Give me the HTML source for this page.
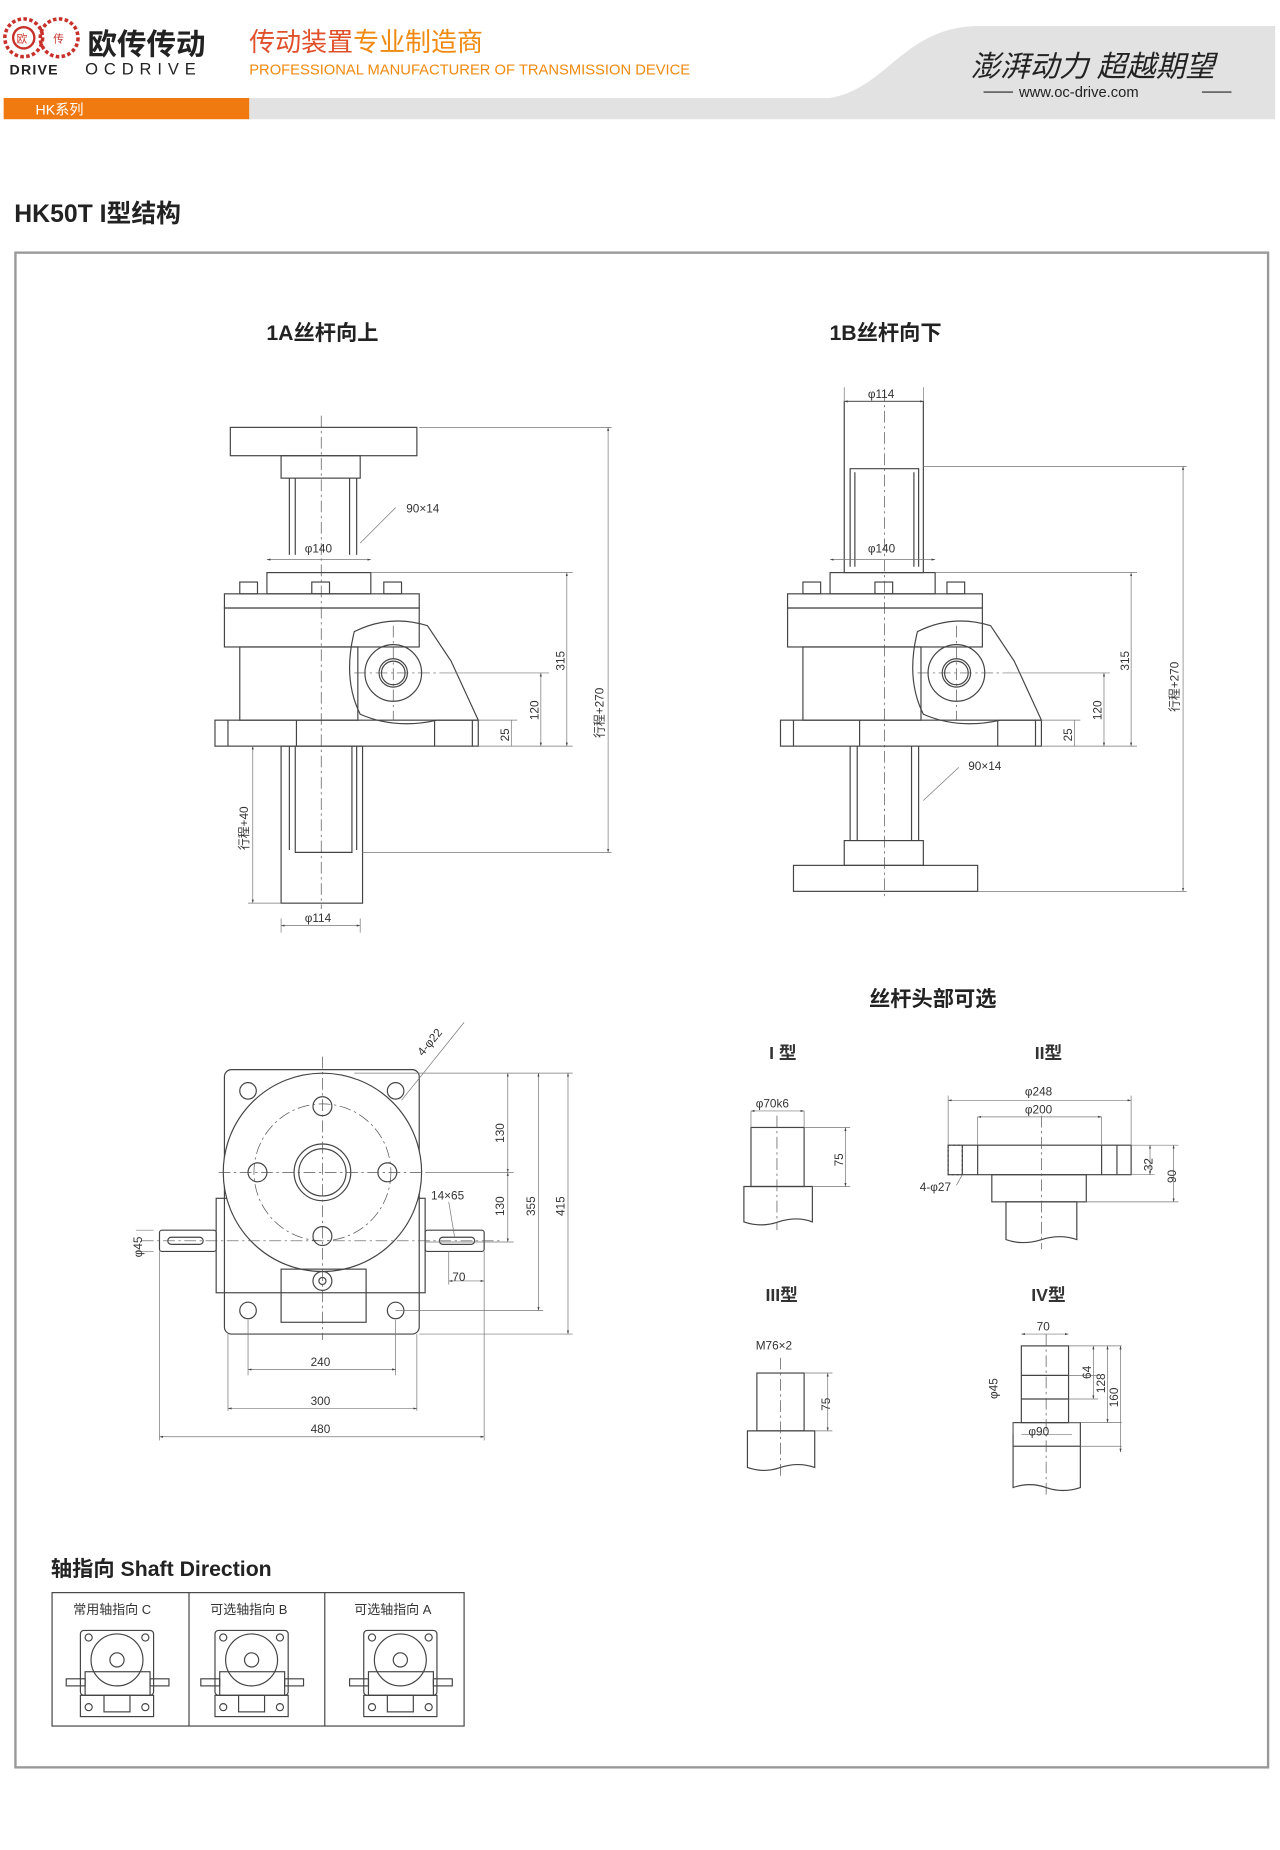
<!DOCTYPE html>
<html><head><meta charset="utf-8"><style>
html,body{margin:0;padding:0;background:#fff}
svg{display:block}
text{font-family:"Liberation Sans","Noto Sans CJK SC",sans-serif;fill:#333}
.l{fill:none;stroke:#444;stroke-width:1}
.t{fill:none;stroke:#777;stroke-width:.6}
.c{fill:none;stroke:#555;stroke-width:.6;stroke-dasharray:10 3 2 3}
.d{font-size:10px}
.h{font-size:18px;font-weight:bold;fill:#222}
</style></head><body>
<svg width="1280" height="1850" viewBox="0 0 1084 1567" xmlns="http://www.w3.org/2000/svg">
<defs>
<marker id="a" markerWidth="6" markerHeight="6" refX="5" refY="3" orient="auto-start-reverse"><path d="M0,1.5L5,3L0,4.5" fill="#444"/></marker>
</defs>
<!-- header -->
<path d="M690,84 C750,84 760,22 830,22 L1080,22 L1080,84 Z" fill="#e2e2e2"/>
<rect x="211" y="83" width="869" height="18" fill="#e2e2e2"/>
<rect x="3" y="83" width="208" height="18" fill="#f07a10"/>
<text x="30" y="97" font-size="12" style="fill:#fff">HK系列</text>
<circle cx="20" cy="32" r="16" fill="none" stroke="#c8302a" stroke-width="3" stroke-dasharray="3 2"/>
<circle cx="20" cy="32" r="9" fill="none" stroke="#c8302a" stroke-width="2"/>
<circle cx="50" cy="32" r="16" fill="none" stroke="#c8302a" stroke-width="3" stroke-dasharray="3 2"/>
<text x="14" y="36" font-size="9" style="fill:#c8302a">欧</text>
<text x="45" y="36" font-size="9" style="fill:#c8302a">传</text>
<text x="74" y="46" font-size="25" font-weight="bold" style="fill:#222">欧传传动</text>
<text x="8" y="63" font-size="12" font-weight="bold" style="fill:#222" letter-spacing="1">DRIVE</text>
<text x="72" y="63" font-size="14" style="fill:#222" letter-spacing="5">OCDRIVE</text>
<text x="211" y="43" font-size="22" style="fill:#e0502a">传动装置<tspan style="fill:#f08a10">专业制造商</tspan></text>
<text x="211" y="63" font-size="12.5" style="fill:#f08a10">PROFESSIONAL MANUFACTURER OF TRANSMISSION DEVICE</text>
<text x="822" y="65" font-size="25" font-family="Noto Serif CJK SC,serif" style="fill:#222;font-style:italic">澎湃动力 超越期望</text>
<text x="863" y="82" font-size="12.5" style="fill:#222">www.oc-drive.com</text>
<line x1="833" y1="78" x2="858" y2="78" stroke="#222"/><line x1="1018" y1="78" x2="1043" y2="78" stroke="#222"/>
<text x="12" y="188" font-size="21" font-weight="bold" style="fill:#222">HK50T I型结构</text>
<rect x="13" y="214" width="1061" height="1283" fill="none" stroke="#999" stroke-width="2"/>
<text x="273" y="288" text-anchor="middle" class="h">1A丝杆向上</text>
<text x="750" y="288" text-anchor="middle" class="h">1B丝杆向下</text>

<!-- 1A -->
<g>
<line class="c" x1="272" y1="352" x2="272" y2="770"/>
<rect class="l" x="195" y="362" width="158" height="24"/>
<rect class="l" x="238" y="386" width="67" height="19"/>
<path class="l" d="M245,405V470M250,405V470M296,405V470M302,405V470"/>
<rect class="l" x="226" y="485" width="88" height="18"/>
<rect class="l" x="203" y="493" width="15" height="10"/><rect class="l" x="264" y="493" width="15" height="10"/><rect class="l" x="325" y="493" width="15" height="10"/>
<rect class="l" x="190" y="503" width="165" height="12"/>
<rect class="l" x="190" y="515" width="165" height="33"/>
<rect class="l" x="203" y="548" width="100" height="62"/>
<path class="l" d="M300,535 Q330,520 362,530 L382,560 L405,610 L370,610 Q335,618 305,605 Q290,575 300,535Z"/>
<circle class="l" cx="333" cy="570" r="24"/><circle class="l" cx="333" cy="570" r="12"/><circle class="l" cx="333" cy="570" r="10"/>
<line class="c" x1="300" y1="570" x2="370" y2="570"/><line class="c" x1="333" y1="530" x2="333" y2="610"/>
<rect class="l" x="182" y="610" width="223" height="22"/>
<path class="l" d="M193,610V632M251,610V632M368,610V632M400,610V632"/>
<rect class="l" x="238" y="632" width="69" height="133"/>
<path class="l" d="M245,632V720M250,632V722H298V632M302,632V720"/>
<path class="t" d="M305,460L335,430"/><text class="d" x="344" y="434">90×14</text>
<line class="t" x1="226" y1="474" x2="314" y2="474" marker-start="url(#a)" marker-end="url(#a)"/><text class="d" x="258" y="468">φ140</text>
<path class="t" d="M314,485H485M372,570H465M405,632H485M355,362H518M307,722H518M405,610H438M238,765H210M238,778V790M305,778V790"/>
<line class="t" x1="480" y1="485" x2="480" y2="632" marker-start="url(#a)" marker-end="url(#a)"/>
<line class="t" x1="458" y1="570" x2="458" y2="632" marker-start="url(#a)" marker-end="url(#a)"/>
<line class="t" x1="433" y1="610" x2="433" y2="632"/>
<line class="t" x1="515" y1="362" x2="515" y2="722" marker-start="url(#a)" marker-end="url(#a)"/>
<line class="t" x1="214" y1="632" x2="214" y2="765" marker-start="url(#a)" marker-end="url(#a)"/>
<line class="t" x1="238" y1="784" x2="305" y2="784" marker-start="url(#a)" marker-end="url(#a)"/><text class="d" x="258" y="781">φ114</text>
<text class="d" transform="translate(478,568) rotate(-90)">315</text>
<text class="d" transform="translate(456,610) rotate(-90)">120</text>
<text class="d" transform="translate(431,628) rotate(-90)">25</text>
<text class="d" transform="translate(511,625) rotate(-90)">行程+270</text>
<text class="d" transform="translate(210,720) rotate(-90)">行程+40</text>
</g>

<!-- 1B -->
<g>
<line class="c" x1="749" y1="330" x2="749" y2="760"/>
<rect class="l" x="715" y="340" width="67" height="145"/>
<path class="l" d="M720,480V397H778V480M724,480V400M774,480V400"/>
<line class="t" x1="715" y1="340" x2="715" y2="328"/><line class="t" x1="782" y1="340" x2="782" y2="328"/>
<line class="t" x1="715" y1="340" x2="782" y2="340" marker-start="url(#a)" marker-end="url(#a)"/><text class="d" x="735" y="337">φ114</text>
<line class="t" x1="703" y1="474" x2="792" y2="474" marker-start="url(#a)" marker-end="url(#a)"/><text class="d" x="735" y="468">φ140</text>
<rect class="l" x="703" y="485" width="89" height="18"/>
<rect class="l" x="680" y="493" width="15" height="10"/><rect class="l" x="741" y="493" width="15" height="10"/><rect class="l" x="802" y="493" width="15" height="10"/>
<rect class="l" x="667" y="503" width="165" height="12"/>
<rect class="l" x="667" y="515" width="165" height="33"/>
<rect class="l" x="680" y="548" width="100" height="62"/>
<path class="l" d="M777,535 Q807,520 839,530 L859,560 L882,610 L847,610 Q812,618 782,605 Q767,575 777,535Z"/>
<circle class="l" cx="810" cy="570" r="24"/><circle class="l" cx="810" cy="570" r="12"/><circle class="l" cx="810" cy="570" r="10"/>
<line class="c" x1="777" y1="570" x2="847" y2="570"/><line class="c" x1="810" y1="530" x2="810" y2="610"/>
<rect class="l" x="661" y="610" width="221" height="22"/>
<path class="l" d="M672,610V632M728,610V632M845,610V632M877,610V632"/>
<path class="l" d="M720,632V712M726,632V712M772,632V712M778,632V712"/>
<rect class="l" x="715" y="712" width="67" height="21"/>
<rect class="l" x="672" y="733" width="156" height="22"/>
<path class="t" d="M782,678L812,650"/><text class="d" x="820" y="652">90×14</text>
<path class="t" d="M792,485H963M849,570H940M882,632H963M782,395H1005M828,755H1005M882,610H915"/>
<line class="t" x1="958" y1="485" x2="958" y2="632" marker-start="url(#a)" marker-end="url(#a)"/>
<line class="t" x1="935" y1="570" x2="935" y2="632" marker-start="url(#a)" marker-end="url(#a)"/>
<line class="t" x1="910" y1="610" x2="910" y2="632"/>
<line class="t" x1="1002" y1="395" x2="1002" y2="755" marker-start="url(#a)" marker-end="url(#a)"/>
<text class="d" transform="translate(956,568) rotate(-90)">315</text>
<text class="d" transform="translate(933,610) rotate(-90)">120</text>
<text class="d" transform="translate(908,628) rotate(-90)">25</text>
<text class="d" transform="translate(998,603) rotate(-90)">行程+270</text>
</g>

<!-- top view -->
<g>
<rect class="l" x="190" y="906" width="165" height="224" rx="6"/>
<rect class="l" x="183" y="1015" width="177" height="80"/>
<circle class="l" cx="273" cy="993" r="84" style="fill:#fff"/>
<circle class="c" cx="273" cy="993" r="58"/>
<circle class="l" cx="273" cy="993" r="24"/><circle class="l" cx="273" cy="993" r="20"/>
<circle class="l" cx="273" cy="937" r="8"/><circle class="l" cx="218" cy="993" r="8"/><circle class="l" cx="328" cy="993" r="8"/><circle class="l" cx="273" cy="1047" r="8"/>
<circle class="l" cx="210" cy="924" r="7"/><circle class="l" cx="335" cy="924" r="7"/><circle class="l" cx="210" cy="1110" r="7"/><circle class="l" cx="335" cy="1110" r="7"/>
<rect class="l" x="238" y="1075" width="72" height="45"/>
<circle class="l" cx="273" cy="1085" r="8"/><circle class="l" cx="273" cy="1085" r="3"/>
<rect class="l" x="135" y="1042" width="48" height="18" rx="2"/><rect class="l" x="360" y="1042" width="50" height="18" rx="2"/>
<rect class="l" x="142" y="1048" width="30" height="6" rx="3"/><rect class="l" x="372" y="1048" width="30" height="6" rx="3"/>
<line class="c" x1="120" y1="1051" x2="425" y2="1051"/><line class="c" x1="273" y1="895" x2="273" y2="1135"/><line class="c" x1="185" y1="993" x2="360" y2="993"/>
<path class="t" d="M340,932L393,866"/><text class="d" transform="translate(358,895) rotate(-50)">4-φ22</text>
<path class="t" d="M300,909H485M360,993H435M360,1052H435M335,1110H460M355,1130H485M210,1118V1165M335,1118V1165M193,1130V1195M353,1130V1195M135,1060V1220M410,1060V1220M380,1060V1088M410,1060V1088M130,1042H115M130,1060H115"/>
<line class="t" x1="430" y1="909" x2="430" y2="993" marker-start="url(#a)" marker-end="url(#a)"/>
<line class="t" x1="430" y1="993" x2="430" y2="1052" marker-start="url(#a)" marker-end="url(#a)"/>
<line class="t" x1="456" y1="909" x2="456" y2="1110" marker-start="url(#a)" marker-end="url(#a)"/>
<line class="t" x1="481" y1="909" x2="481" y2="1130" marker-start="url(#a)" marker-end="url(#a)"/>
<line class="t" x1="210" y1="1160" x2="335" y2="1160" marker-start="url(#a)" marker-end="url(#a)"/>
<line class="t" x1="193" y1="1193" x2="353" y2="1193" marker-start="url(#a)" marker-end="url(#a)"/>
<line class="t" x1="135" y1="1217" x2="410" y2="1217" marker-start="url(#a)" marker-end="url(#a)"/>
<line class="t" x1="380" y1="1085" x2="410" y2="1085" marker-start="url(#a)" marker-end="url(#a)"/>
<path class="t" d="M385,1048L380,1018"/><text class="d" x="365" y="1016">14×65</text>
<text class="d" x="383" y="1085">70</text>
<text class="d" x="263" y="1157">240</text><text class="d" x="263" y="1190">300</text><text class="d" x="263" y="1214">480</text>
<text class="d" transform="translate(427,968) rotate(-90)">130</text>
<text class="d" transform="translate(427,1030) rotate(-90)">130</text>
<text class="d" transform="translate(453,1030) rotate(-90)">355</text>
<text class="d" transform="translate(478,1030) rotate(-90)">415</text>
<text class="d" transform="translate(120,1065) rotate(-90)">φ45</text>
</g>

<!-- heads -->
<text x="790" y="852" text-anchor="middle" class="h">丝杆头部可选</text>
<text x="663" y="897" text-anchor="middle" font-size="15" font-weight="bold">I 型</text>
<text x="888" y="897" text-anchor="middle" font-size="15" font-weight="bold">II型</text>
<text x="662" y="1102" text-anchor="middle" font-size="15" font-weight="bold">III型</text>
<text x="888" y="1102" text-anchor="middle" font-size="15" font-weight="bold">IV型</text>
<g>
<rect class="l" x="636" y="955" width="45" height="50"/>
<path class="l" d="M630,1005H688V1035Q675,1030 659,1035Q645,1040 630,1035Z"/>
<line class="c" x1="658" y1="945" x2="658" y2="1042"/>
<line class="t" x1="636" y1="941" x2="681" y2="941" marker-start="url(#a)" marker-end="url(#a)"/><text class="d" x="640" y="938">φ70k6</text>
<path class="t" d="M636,941V955M681,941V955M681,955H720M688,1005H720"/>
<line class="t" x1="716" y1="955" x2="716" y2="1005" marker-start="url(#a)" marker-end="url(#a)"/><text class="d" transform="translate(714,988) rotate(-90)">75</text>

<rect class="l" x="803" y="970" width="155" height="25"/>
<path class="l" d="M815,970V995M828,970V995M933,970V995M946,970V995"/>
<rect x="803" y="970" width="12" height="25" fill="none" stroke="#444" stroke-dasharray="2 2"/>
<rect class="l" x="840" y="995" width="80" height="23"/>
<path class="l" d="M852,1018H912V1050Q898,1045 882,1050Q866,1055 852,1050Z"/>
<line class="c" x1="882" y1="945" x2="882" y2="1058"/>
<line class="t" x1="803" y1="932" x2="958" y2="932" marker-start="url(#a)" marker-end="url(#a)"/><text class="d" x="868" y="928">φ248</text>
<line class="t" x1="828" y1="946" x2="933" y2="946" marker-start="url(#a)" marker-end="url(#a)"/><text class="d" x="868" y="943">φ200</text>
<path class="t" d="M803,928V970M958,928V970M828,946V970M933,946V970M958,970H998M958,995H978M920,1018H998"/>
<line class="t" x1="974" y1="970" x2="974" y2="995" marker-start="url(#a)" marker-end="url(#a)"/><text class="d" transform="translate(976,992) rotate(-90)">32</text>
<line class="t" x1="994" y1="970" x2="994" y2="1018" marker-start="url(#a)" marker-end="url(#a)"/><text class="d" transform="translate(996,1002) rotate(-90)">90</text>
<text class="d" x="779" y="1009">4-φ27</text><path class="t" d="M810,1004L815,995"/>

<rect class="l" x="641" y="1163" width="40" height="49"/>
<path class="l" d="M633,1212H690V1243Q676,1238 661,1243Q647,1248 633,1243Z"/>
<line class="c" x1="661" y1="1150" x2="661" y2="1250"/>
<text class="d" x="640" y="1143">M76×2</text>
<path class="t" d="M681,1163H705M690,1212H705"/>
<line class="t" x1="701" y1="1163" x2="701" y2="1212" marker-start="url(#a)" marker-end="url(#a)"/><text class="d" transform="translate(703,1195) rotate(-90)">75</text>

<rect class="l" x="865" y="1140" width="40" height="65"/>
<path class="l" d="M865,1165H905M865,1185H905"/>
<rect class="l" x="858" y="1205" width="57" height="20"/>
<path class="l" d="M858,1225V1260Q872,1255 886,1260Q900,1265 915,1260V1225"/>
<line class="c" x1="886" y1="1130" x2="886" y2="1268"/>
<line class="t" x1="865" y1="1130" x2="905" y2="1130" marker-start="url(#a)" marker-end="url(#a)"/><text class="d" x="878" y="1127">70</text>
<path class="t" d="M905,1140H950M905,1165H930M905,1185H930M905,1205H950M915,1225H950M858,1205V1215M865,1215H908"/>
<line class="t" x1="926" y1="1140" x2="926" y2="1185" marker-start="url(#a)" marker-end="url(#a)"/><text class="d" transform="translate(924,1168) rotate(-90)">64</text>
<line class="t" x1="938" y1="1140" x2="938" y2="1205" marker-start="url(#a)" marker-end="url(#a)"/><text class="d" transform="translate(936,1180) rotate(-90)">128</text>
<line class="t" x1="949" y1="1140" x2="949" y2="1230" marker-start="url(#a)" marker-end="url(#a)"/><text class="d" transform="translate(947,1192) rotate(-90)">160</text>
<text class="d" transform="translate(845,1185) rotate(-90)">φ45</text>
<text class="d" x="871" y="1216">φ90</text>
</g>

<!-- shaft direction -->
<text x="43" y="1335" font-size="18" font-weight="bold" style="fill:#222">轴指向 Shaft Direction</text>
<rect class="l" x="44" y="1349" width="349" height="113"/>
<path class="l" d="M160,1349V1462M275,1349V1462"/>
<text x="62" y="1367" font-size="11">常用轴指向 C</text>
<text x="178" y="1367" font-size="11">可选轴指向 B</text>
<text x="300" y="1367" font-size="11">可选轴指向 A</text>
<g id="m">
<rect class="l" x="68" y="1381" width="62" height="55" rx="3"/>
<circle class="l" cx="99" cy="1406" r="22"/><circle class="l" cx="99" cy="1406" r="6"/>
<rect class="l" x="72" y="1416" width="55" height="20"/>
<rect class="l" x="56" y="1422" width="16" height="6"/><rect class="l" x="127" y="1422" width="16" height="6"/>
<rect class="l" x="88" y="1436" width="22" height="14"/><rect class="l" x="68" y="1436" width="62" height="18"/>
<circle class="l" cx="75" cy="1387" r="3"/><circle class="l" cx="123" cy="1387" r="3"/><circle class="l" cx="75" cy="1446" r="3"/><circle class="l" cx="123" cy="1446" r="3"/>
</g>
<use href="#m" x="114"/><use href="#m" x="240"/>
</svg>
</body></html>
